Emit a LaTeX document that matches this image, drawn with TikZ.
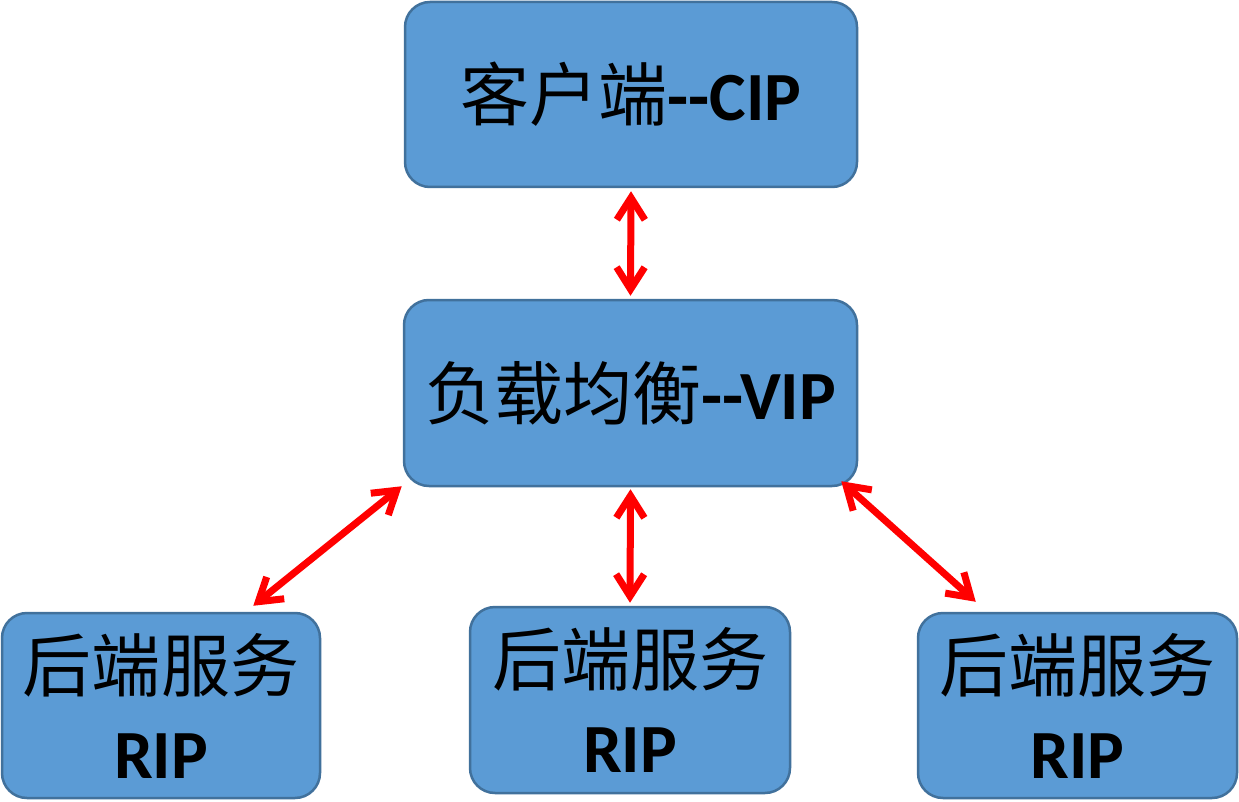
\documentclass[tikz,border=0pt]{standalone}
\usepackage{fontspec}
\setmainfont{Carlito}[Ligatures=NoCommon]
\newfontfamily\cjk{Noto Sans CJK SC}
\usetikzlibrary{arrows.meta}
\definecolor{boxfill}{HTML}{5B9BD5}
\definecolor{boxline}{HTML}{41719C}
\begin{document}
\begin{tikzpicture}[x=1pt,y=-1pt,
  box/.style={draw=boxline, line width=2.5pt, fill=boxfill, rounded corners=25pt,
    inner sep=0pt, align=center, font=\fontsize{69pt}{87pt}\selectfont},
  link/.style={draw=red, line width=7pt,
    {Straight Barb[length=22pt,width=28pt]}-{Straight Barb[length=22pt,width=28pt]}}
]
\useasboundingbox[fill=white] (0,0) rectangle (1239,802);
\node[box, minimum width=452pt, minimum height=185pt] (top) at (631,94.5)
  {{\cjk 客户端}\textbf{-{}-CIP}};
\node[box, minimum width=453pt, minimum height=186pt] (mid) at (630.5,393)
  {{\cjk 负载均衡}\textbf{-{}-VIP}};
\node[box, minimum width=318pt, minimum height=185pt] (bl) at (161,705.5)
  {{\cjk 后端服务}\\\textbf{RIP}};
\node[box, minimum width=320pt, minimum height=186pt] (bm) at (630,700)
  {{\cjk 后端服务}\\\textbf{RIP}};
\node[box, minimum width=319pt, minimum height=185pt] (br) at (1077.5,705.5)
  {{\cjk 后端服务}\\\textbf{RIP}};
\draw[link] ([yshift=-3pt]top.south) -- ([yshift=3pt]mid.north);
\draw[link] ([yshift=-2pt]mid.south) -- ([yshift=3pt]bm.north);
\draw[link] ([shift={(-1,-1)}]mid.south west) -- ([shift={(-68,-6)}]bl.north east);
\draw[link] ([shift={(-17,-6)}]mid.south east) -- ([shift={(59,-10)}]br.north west);
\end{tikzpicture}
\end{document}
